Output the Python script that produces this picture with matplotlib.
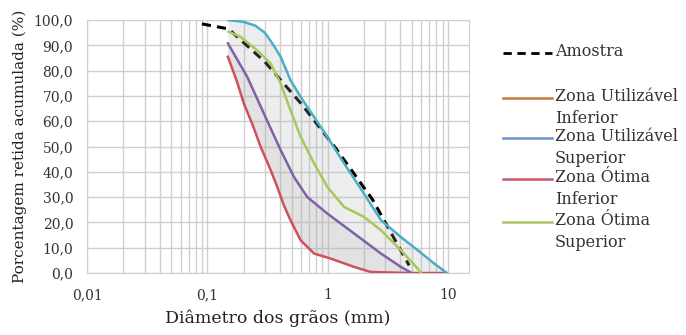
import numpy as np
import matplotlib.pyplot as plt
from matplotlib.ticker import FuncFormatter, LogLocator, NullFormatter
from matplotlib.lines import Line2D

# Amostra (sample) - straight segments
amostra_x = [0.09, 0.15, 0.3, 0.6, 1.18, 2.36, 4.75]
amostra_y = [98.5, 96.5, 83.5, 67, 49, 29, 3]

# limit curves
red_x = [0.148, 0.175, 0.201, 0.24, 0.277, 0.33, 0.381, 0.43, 0.49, 0.596, 0.77, 1.06, 1.3, 1.66, 2.28, 4.75, 9.5]
red_y = [85.5, 76, 67, 58, 49.9, 41.5, 34, 27, 20.9, 12.9, 7.7, 5.7, 4.2, 2.4, 0.4, 0, 0]

purple_x = [0.148, 0.214, 0.295, 0.406, 0.524, 0.677, 0.994, 1.66, 2.77, 4.06, 4.9]
purple_y = [90.8, 77.6, 63, 48.6, 38, 30, 23.5, 15.6, 7.7, 2.4, 0.2]

green_x = [0.15, 0.188, 0.26, 0.335, 0.406, 0.49, 0.596, 0.77, 0.994, 1.37, 2.0, 2.77, 4.06, 5.6, 5.96]
green_y = [95.4, 93.4, 88, 82.9, 75, 64.4, 53.8, 43.3, 34, 26.1, 22.2, 16.9, 9, 1.7, 0]

blue_x = [0.15, 0.2, 0.25, 0.3, 0.35, 0.406, 0.49, 0.596, 0.77, 0.994, 1.37, 2.0, 2.77, 4.06, 5.6, 7.7, 9.8]
blue_y = [100, 99.3, 97.8, 95, 90.5, 85.5, 76.3, 69.6, 61.7, 53.8, 43.3, 31.4, 20.9, 14.2, 9, 3.7, 0]

legend_labels = ["Amostra", "Zona Utilizável\nInferior", "Zona Utilizável\nSuperior",
                 "Zona Ótima\nInferior", "Zona Ótima\nSuperior"]
legend_colors = ["black", "#c07a3a", "#6f93c4", "#c9576a", "#a8c464"]

plt.rcParams['font.family'] = ['DejaVu Serif']

fig = plt.figure(figsize=(6.86, 3.35), dpi=100)
ax = fig.add_axes([0.127, 0.185, 0.557, 0.755])

ax.plot(amostra_x, amostra_y, color="black", lw=2.2, dashes=(3, 2), zorder=2)

# shaded zone (semi-transparent, drawn over the sample line)
ax.fill(np.concatenate([blue_x, red_x[::-1]]), np.concatenate([blue_y, red_y[::-1]]),
        color="#b0b0b0", alpha=0.22, lw=0, zorder=3)
ax.fill(np.concatenate([purple_x, red_x[::-1]]), np.concatenate([purple_y, red_y[::-1]]),
        color="#a0a0a0", alpha=0.14, lw=0, zorder=3)

ax.plot(red_x, red_y, color="#d0505a", lw=1.8, zorder=4)
ax.plot(purple_x, purple_y, color="#7e62a6", lw=1.8, zorder=4)
ax.plot(green_x, green_y, color="#a6c85c", lw=1.8, zorder=4)
ax.plot(blue_x, blue_y, color="#4aaec8", lw=1.8, zorder=4)

ax.set_xscale("log")
ax.set_xlim(0.01, 15)
ax.set_ylim(0, 100)
ax.set_xticks([0.01, 0.1, 1, 10])
ax.xaxis.set_minor_locator(LogLocator(base=10, subs=np.arange(2, 10)))
ax.xaxis.set_minor_formatter(NullFormatter())
ax.xaxis.set_major_formatter(FuncFormatter(lambda v, p: f"{v:g}".replace(".", ",")))
ax.set_yticks(np.arange(0, 101, 10))
ax.yaxis.set_major_formatter(FuncFormatter(lambda v, p: f"{v:.1f}".replace(".", ",")))
ax.grid(True, which="both", axis="x", color="#cfcfcf", lw=1)
ax.grid(True, which="major", axis="y", color="#cfcfcf", lw=1)
ax.set_axisbelow(True)
ax.tick_params(axis="x", which="both", length=0, labelsize=10, colors="#333333", pad=11)
ax.tick_params(axis="y", which="both", length=0, labelsize=10, colors="#333333", pad=10)
for s in ax.spines.values():
    s.set_color("#cfcfcf")

ax.set_xlabel("Diâmetro dos grãos (mm)", fontsize=12.5, color="#222222", labelpad=5)
ax.set_ylabel("Porcentagem retida acumulada (%)", fontsize=11, color="#222222", labelpad=5)

# legend drawn by hand to keep Excel-like layout
W, H = 686, 335
ys = [53, 98, 138, 179, 222]
for i, (lab, col) in enumerate(zip(legend_labels, legend_colors)):
    y = 1 - ys[i] / H
    ln = Line2D([503 / W, 552 / W], [y, y], color=col, lw=2 if i == 0 else 1.8,
                transform=fig.transFigure)
    if i == 0:
        ln.set_dashes((3, 2))
    fig.add_artist(ln)
    fig.text(555 / W, y + 10 / H, lab, fontsize=11.5, color="#333333", va="top",
             ha="left", linespacing=1.35, transform=fig.transFigure)

fig.savefig("out.png", dpi=100)
